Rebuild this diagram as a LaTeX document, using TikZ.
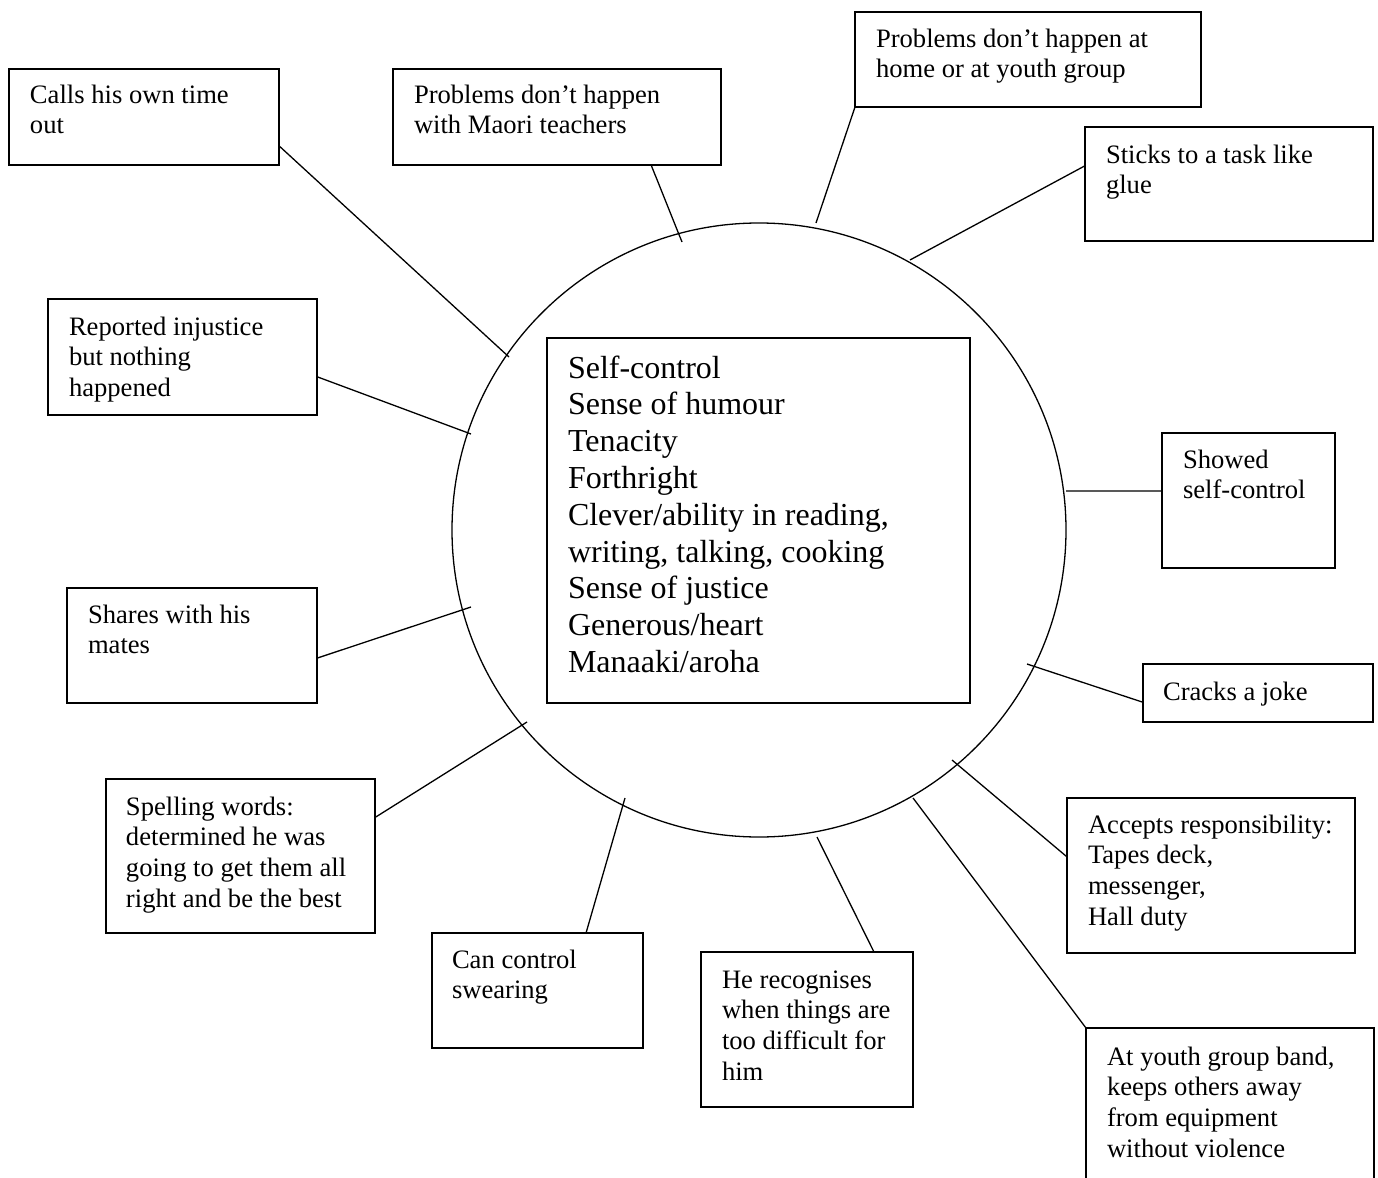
\documentclass[tikz,border=0pt]{standalone}
\usepackage{fontspec}
\setmainfont{Liberation Serif}
\usetikzlibrary{calc}
\newcommand\boxat[5]{\node[boxst, minimum width={(#4-#2)*0.5pt}, minimum height={(#5-#3)*0.5pt}] (#1) at ({(#2+#4)/2},{(#3+#5)/2}) {};}
\newcommand\smalltxt[1]{\parbox[t]{300pt}{\raggedright\fontsize{13.3pt}{15.35pt}\selectfont #1}}
\newcommand\bigtxt[1]{\parbox[t]{300pt}{\raggedright\fontsize{16pt}{18.4pt}\selectfont #1}}
\begin{document}
\begin{tikzpicture}[x=0.5pt,y=-0.5pt,
  boxst/.style={draw, rectangle, line width=1pt, inner sep=0pt, outer sep=0pt},
  txt/.style={anchor=base west, inner sep=0pt, outer sep=0pt},
  link/.style={draw, line width=0.65pt}]
\clip (0,0) rectangle (1378,1178);
\fill[white] (0,0) rectangle (1378,1178);

% central circle and box
\node[circle, draw, line width=0.65pt, minimum size=307pt, inner sep=0pt, outer sep=0pt] (circ) at (759,530) {};
\boxat{core}{547}{338}{970}{703}
\node[txt] (core-t) at (568,378) {\bigtxt{Self-control\\Sense of humour\\Tenacity\\Forthright\\Clever/ability in reading,\\writing, talking, cooking\\Sense of justice\\Generous/heart\\Manaaki/aroha}};

% boxes
\boxat{calls}{9}{69}{279}{165}
\boxat{maori}{393}{69}{721}{165}
\boxat{home}{855}{12}{1201}{107}
\boxat{sticks}{1085}{127}{1373}{241}
\boxat{reported}{48}{299}{317}{415}
\boxat{showed}{1162}{433}{1335}{568}
\boxat{shares}{67}{588}{317}{703}
\boxat{cracks}{1143}{664}{1373}{722}
\boxat{spelling}{106}{779}{375}{933}
\boxat{canctl}{432}{933}{643}{1048}
\boxat{recog}{701}{952}{913}{1107}
\boxat{accepts}{1067}{798}{1355}{953}
\boxat{youth}{1086}{1028}{1374}{1220}

% texts
\node[txt] (calls-t) at (30,103) {\smalltxt{Calls his own time\\out}};
\node[txt] (maori-t) at (414,103) {\smalltxt{Problems don’t happen\\with Maori teachers}};
\node[txt] (home-t) at (876,47) {\smalltxt{Problems don’t happen at\\home or at youth group}};
\node[txt] (sticks-t) at (1106,163) {\smalltxt{Sticks to a task like\\glue}};
\node[txt] (reported-t) at (69,335) {\smalltxt{Reported injustice\\but nothing\\happened}};
\node[txt] (showed-t) at (1183,468) {\smalltxt{Showed\\self-control}};
\node[txt] (shares-t) at (88,623) {\smalltxt{Shares with his\\mates}};
\node[txt] (cracks-t) at (1163,700) {\smalltxt{Cracks a joke}};
\node[txt] (spelling-t) at (126,815) {\smalltxt{Spelling words:\\determined he was\\going to get them all\\right and be the best}};
\node[txt] (canctl-t) at (452,968) {\smalltxt{Can control\\swearing}};
\node[txt] (recog-t) at (722,988) {\smalltxt{He recognises\\when things are\\too difficult for\\him}};
\node[txt] (accepts-t) at (1088,833) {\smalltxt{Accepts responsibility:\\Tapes deck,\\messenger,\\Hall duty}};
\node[txt] (youth-t) at (1107,1065) {\smalltxt{At youth group band,\\keeps others away\\from equipment\\without violence}};

% connector ends at the circle
\coordinate (e-calls) at (509,357);
\coordinate (e-maori) at (682,242);
\coordinate (e-home) at (816,223);
\coordinate (e-sticks) at (910,260);
\coordinate (e-reported) at (471,434);
\coordinate (e-showed) at (1066,491);
\coordinate (e-shares) at (471,607);
\coordinate (e-cracks) at (1027,664);
\coordinate (e-spelling) at (527,722);
\coordinate (e-canctl) at (625,798);
\coordinate (e-recog) at (817,837);
\coordinate (e-accepts) at (952,760);
\coordinate (e-youth) at (913,798);

% connectors
\draw[link] ($(calls.north east)!0.8!(calls.south east)$) -- (e-calls);
\draw[link] ($(maori.south west)!0.787!(maori.south east)$) -- (e-maori);
\draw[link] (home.south west) -- (e-home);
\draw[link] ($(sticks.north west)!0.34!(sticks.south west)$) -- (e-sticks);
\draw[link] ($(reported.north east)!0.67!(reported.south east)$) -- (e-reported);
\draw[link] ($(showed.north west)!0.43!(showed.south west)$) -- (e-showed);
\draw[link] ($(shares.north east)!0.61!(shares.south east)$) -- (e-shares);
\draw[link] ($(cracks.north west)!0.66!(cracks.south west)$) -- (e-cracks);
\draw[link] ($(spelling.north east)!0.25!(spelling.south east)$) -- (e-spelling);
\draw[link] ($(canctl.north west)!0.73!(canctl.north east)$) -- (e-canctl);
\draw[link] ($(recog.north west)!0.816!(recog.north east)$) -- (e-recog);
\draw[link] ($(accepts.north west)!0.38!(accepts.south west)$) -- (e-accepts);
\draw[link] (youth.north west) -- (e-youth);
\end{tikzpicture}
\end{document}
